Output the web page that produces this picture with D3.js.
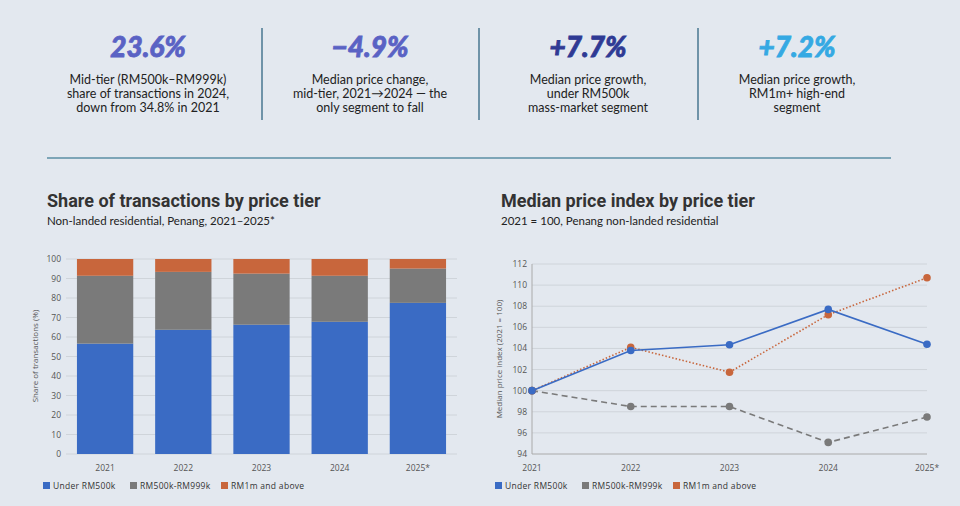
<!DOCTYPE html>
<html><head><meta charset="utf-8">
<script src="https://cdn.jsdelivr.net/npm/d3@7"></script>
<style>body{margin:0;background:#e3e8ef;}svg{display:block;font-family:"Open Sans",sans-serif;}</style>
</head><body><svg id="c" width="960" height="506"></svg>
<script>
const years=["2021","2022","2023","2024","2025*"];
const seriesNames=["Under RM500k","RM500k-RM999k","RM1m and above"];
const colors=["#3a6bc4","#7a7a7a","#c8663c"];
const shareUnder=[56.6,63.7,66.3,67.8,77.5];
const shareMid=[34.8,29.7,26.2,23.6,17.6];
const shareHigh=[8.6,6.6,7.5,8.6,4.9];
const idxUnder=[100,103.8,104.35,107.7,104.4];
const idxMid=[100,98.5,98.5,95.1,97.5];
const idxHigh=[100,104.1,101.75,107.2,110.7];
const kpiValues=["23.6%","\u22124.9%","+7.7%","+7.2%"];
const kpiColors=["#5a62c4","#5a62c4","#2f3a94","#35a9e3"];
const kpiText=[["Mid-tier (RM500k\u2013RM999k)","share of transactions in 2024,","down from 34.8% in 2021"],["Median price change,","mid-tier, 2021\u21922024 \u2014 the","only segment to fall"],["Median price growth,","under RM500k","mass-market segment"],["Median price growth,","RM1m+ high-end","segment"]];

const svg=d3.select("#c");
const kx=[148,370,588,797];
kpiValues.forEach((v,i)=>{
  svg.append("text").attr("x",kx[i]).attr("y",57).attr("text-anchor","middle").attr("font-size",28).attr("font-weight",900).attr("font-style","italic").attr("font-family","Lato,sans-serif").attr("fill",kpiColors[i]).attr("stroke",kpiColors[i]).attr("stroke-width",0.8).text(v);
  kpiText[i].forEach((t,j)=>svg.append("text").attr("x",kx[i]).attr("y",84+j*14).attr("text-anchor","middle").attr("font-size",12.5).attr("font-family","Lato,sans-serif").attr("fill","#222").text(t));
});
[262,479,698].forEach(x=>svg.append("line").attr("x1",x).attr("x2",x).attr("y1",28).attr("y2",120).attr("stroke","#6f93a8").attr("stroke-width",2));
svg.append("line").attr("x1",47).attr("x2",891).attr("y1",158).attr("y2",158).attr("stroke","#5b8fa5").attr("stroke-width",1.5);
function title(x,t,s){
  svg.append("text").attr("x",x).attr("y",207).attr("font-size",18).attr("font-weight",700).attr("font-family","Roboto,sans-serif").attr("fill","#333").text(t);
  svg.append("text").attr("x",x).attr("y",225).attr("font-size",11.5).attr("font-family","Lato,sans-serif").attr("fill","#222").text(s);
}
title(47,"Share of transactions by price tier","Non-landed residential, Penang, 2021\u20132025*");
title(501,"Median price index by price tier","2021 = 100, Penang non-landed residential");

// Bar chart
const bx=d3.scaleBand().domain(years).range([66,457]).paddingInner(0.28).paddingOuter(0.14);
const by=d3.scaleLinear().domain([0,100]).range([454,259]);
const g1=svg.append("g");
by.ticks(10).forEach(t=>{
  g1.append("line").attr("x1",66).attr("x2",457).attr("y1",by(t)).attr("y2",by(t)).attr("stroke","#cfd4da");
  g1.append("text").attr("x",61).attr("y",by(t)+3).attr("text-anchor","end").attr("font-size",8.5).attr("fill","#555").text(t);
});
const stackData=years.map((y,i)=>({year:y,a:shareUnder[i],b:shareMid[i],c:shareHigh[i]}));
const stack=d3.stack().keys(["a","b","c"])(stackData);
stack.forEach((s,k)=>g1.selectAll(null).data(s).enter().append("rect")
  .attr("x",d=>bx(d.data.year)).attr("width",bx.bandwidth())
  .attr("y",d=>by(Math.min(d[1],100))).attr("height",d=>by(d[0])-by(Math.min(d[1],100))).attr("fill",colors[k]));
years.forEach(y=>g1.append("text").attr("x",bx(y)+bx.bandwidth()/2).attr("y",471).attr("text-anchor","middle").attr("font-size",8.5).attr("fill","#555").text(y));
g1.append("text").attr("transform","translate(38,356) rotate(-90)").attr("text-anchor","middle").attr("font-size",8).attr("fill","#555").text("Share of transactions (%)");
function legend(x0,xs){
  seriesNames.forEach((n,i)=>{
    svg.append("rect").attr("x",x0+xs[i]).attr("y",482).attr("width",7).attr("height",7).attr("fill",colors[i]);
    svg.append("text").attr("x",x0+xs[i]+10).attr("y",489).attr("font-size",8.5).attr("fill","#333").attr("letter-spacing",0.3).text(n);
  });
}
legend(43,[0,87,178]);

// Line chart
const lx=d3.scalePoint().domain(years).range([532,927]);
const ly=d3.scaleLinear().domain([94,112]).range([454,264]);
const g2=svg.append("g");
d3.range(94,113,2).forEach(t=>{
  g2.append("line").attr("x1",532).attr("x2",927).attr("y1",ly(t)).attr("y2",ly(t)).attr("stroke",t==94?"#aaa":"#cfd4da");
  g2.append("text").attr("x",527).attr("y",ly(t)+3).attr("text-anchor","end").attr("font-size",8.5).attr("fill","#555").text(t);
});
g2.append("line").attr("x1",532).attr("x2",532).attr("y1",264).attr("y2",454).attr("stroke","#aaa");
years.forEach(y=>g2.append("text").attr("x",lx(y)).attr("y",471).attr("text-anchor","middle").attr("font-size",8.5).attr("fill","#555").text(y));
g2.append("text").attr("transform","translate(502,359) rotate(-90)").attr("text-anchor","middle").attr("font-size",8).attr("fill","#555").text("Median price index (2021 = 100)");
const line=d3.line().x((d,i)=>lx(years[i])).y(d=>ly(d));
const sets=[[idxMid,1,"6,4",1.6],[idxHigh,2,"1.5,2",1.6],[idxUnder,0,null,1.6]];
sets.forEach(([arr,k,dash,w])=>{
  g2.append("path").attr("d",line(arr)).attr("fill","none").attr("stroke",colors[k]).attr("stroke-width",w).attr("stroke-dasharray",dash);
  arr.forEach((v,i)=>g2.append("circle").attr("cx",lx(years[i])).attr("cy",ly(v)).attr("r",3.8).attr("fill",colors[k]));
});
legend(495,[0,87,178]);
</script></body></html>
